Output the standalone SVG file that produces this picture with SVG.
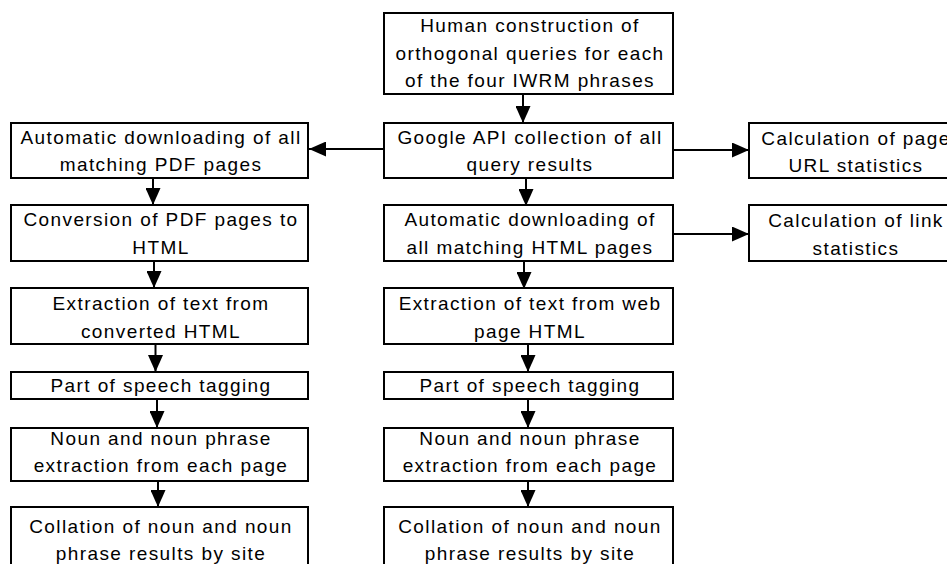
<svg xmlns="http://www.w3.org/2000/svg" width="947" height="564" viewBox="0 0 947 564">
<style>
  .box { fill: #ffffff; stroke: #000000; stroke-width: 2; }
  .lbl { font-family: "Liberation Sans", Arial, sans-serif; font-size: 19px; letter-spacing: 1.4px; fill: #000000; text-anchor: middle; }
  .con { stroke: #000000; stroke-width: 2; fill: none; marker-end: url(#ah); }
</style>
<defs>
  <marker id="ah" markerUnits="userSpaceOnUse" markerWidth="17" markerHeight="15" refX="17" refY="7.5" orient="auto" viewBox="0 0 17 15">
    <path d="M0,0 L17,7.5 L0,15 z" fill="#000000"/>
  </marker>
</defs>
<rect width="947" height="564" fill="#ffffff"/>

<g id="connectors">
  <line class="con" x1="523" y1="95" x2="523" y2="123"/>
  <line class="con" x1="526" y1="174" x2="526" y2="206"/>
  <line class="con" x1="524" y1="261" x2="524" y2="289"/>
  <line class="con" x1="528" y1="344" x2="528" y2="372"/>
  <line class="con" x1="528" y1="399" x2="528" y2="428"/>
  <line class="con" x1="528" y1="481" x2="528" y2="507"/>
  <line class="con" x1="153" y1="178" x2="153" y2="205"/>
  <line class="con" x1="154" y1="261" x2="154" y2="288"/>
  <line class="con" x1="155.5" y1="344" x2="155.5" y2="372"/>
  <line class="con" x1="157" y1="399" x2="157" y2="428"/>
  <line class="con" x1="158" y1="481" x2="158" y2="507"/>
  <line class="con" x1="384" y1="149" x2="309" y2="149"/>
  <line class="con" x1="673" y1="150" x2="749" y2="150"/>
  <line class="con" x1="673" y1="234" x2="749" y2="234"/>
</g>

<g id="n-human">
  <rect class="box" x="384" y="13" width="289" height="81"/>
  <text class="lbl" x="530" y="32">Human construction of</text>
  <text class="lbl" x="530" y="60">orthogonal queries for each</text>
  <text class="lbl" x="530" y="87">of the four IWRM phrases</text>
</g>
<g id="n-google">
  <rect class="box" x="384" y="123" width="289" height="55"/>
  <text class="lbl" x="530" y="144">Google API collection of all</text>
  <text class="lbl" x="530" y="171">query results</text>
</g>
<g id="n-autopdf">
  <rect class="box" x="11" y="123" width="297" height="55"/>
  <text class="lbl" x="161" y="144">Automatic downloading of all</text>
  <text class="lbl" x="161" y="171">matching PDF pages</text>
</g>
<g id="n-calcurl">
  <rect class="box" x="749" y="123" width="212" height="55"/>
  <text class="lbl" x="856" y="145">Calculation of page</text>
  <text class="lbl" x="856" y="172">URL statistics</text>
</g>
<g id="n-conversion">
  <rect class="box" x="11" y="205" width="297" height="56"/>
  <text class="lbl" x="161" y="226">Conversion of PDF pages to</text>
  <text class="lbl" x="161" y="254">HTML</text>
</g>
<g id="n-autohtml">
  <rect class="box" x="384" y="205" width="289" height="56"/>
  <text class="lbl" x="530" y="226">Automatic downloading of</text>
  <text class="lbl" x="530" y="254">all matching HTML pages</text>
</g>
<g id="n-calclink">
  <rect class="box" x="749" y="205" width="212" height="56"/>
  <text class="lbl" x="856" y="227">Calculation of link</text>
  <text class="lbl" x="856" y="255">statistics</text>
</g>
<g id="n-extract-pdf">
  <rect class="box" x="11" y="288" width="297" height="56"/>
  <text class="lbl" x="161" y="310">Extraction of text from</text>
  <text class="lbl" x="161" y="338">converted HTML</text>
</g>
<g id="n-extract-web">
  <rect class="box" x="384" y="288" width="289" height="56"/>
  <text class="lbl" x="530" y="310">Extraction of text from web</text>
  <text class="lbl" x="530" y="338">page HTML</text>
</g>
<g id="n-pos-left">
  <rect class="box" x="11" y="372" width="297" height="27"/>
  <text class="lbl" x="161" y="392">Part of speech tagging</text>
</g>
<g id="n-pos-center">
  <rect class="box" x="384" y="372" width="289" height="27"/>
  <text class="lbl" x="530" y="392">Part of speech tagging</text>
</g>
<g id="n-noun-left">
  <rect class="box" x="11" y="428" width="297" height="53"/>
  <text class="lbl" x="161" y="445">Noun and noun phrase</text>
  <text class="lbl" x="161" y="472">extraction from each page</text>
</g>
<g id="n-noun-center">
  <rect class="box" x="384" y="428" width="289" height="53"/>
  <text class="lbl" x="530" y="445">Noun and noun phrase</text>
  <text class="lbl" x="530" y="472">extraction from each page</text>
</g>
<g id="n-collate-left">
  <rect class="box" x="11" y="507" width="297" height="80"/>
  <text class="lbl" x="161" y="533">Collation of noun and noun</text>
  <text class="lbl" x="161" y="560">phrase results by site</text>
</g>
<g id="n-collate-center">
  <rect class="box" x="384" y="507" width="289" height="80"/>
  <text class="lbl" x="530" y="533">Collation of noun and noun</text>
  <text class="lbl" x="530" y="560">phrase results by site</text>
</g>
</svg>
